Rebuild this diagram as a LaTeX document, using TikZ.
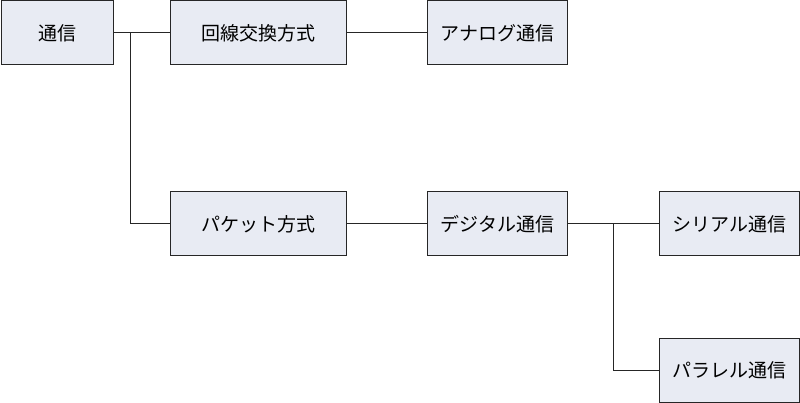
\documentclass[tikz,border=0pt]{standalone}
\usepackage{fontspec}
\newfontfamily\jp{Noto Sans CJK JP}
\begin{document}
\begin{tikzpicture}[x=1pt,y=-1pt,
  box/.style={draw=black!85,fill=boxfill,line width=1pt,inner sep=0pt,anchor=north west,font=\jp\fontsize{19}{22}\selectfont},
  conn/.style={draw=black!85,line width=1pt}]
\definecolor{boxfill}{HTML}{E8EBF3}
\useasboundingbox (0,0) rectangle (800,403);
\node[box,minimum width=112pt,minimum height=64pt] (tsu) at (0.5,0.5) {通信};
\node[box,minimum width=176pt,minimum height=64pt] (kai) at (170,0.5) {回線交換方式};
\node[box,minimum width=140pt,minimum height=64pt] (ana) at (427,0.5) {アナログ通信};
\node[box,minimum width=176pt,minimum height=64pt] (pak) at (170,191.5) {パケット方式};
\node[box,minimum width=140pt,minimum height=64pt] (dig) at (427,191.5) {デジタル通信};
\node[box,minimum width=140pt,minimum height=64pt] (ser) at (659,191.5) {シリアル通信};
\node[box,minimum width=140pt,minimum height=64pt] (par) at (659,338) {パラレル通信};
\coordinate (j1) at (tsu.east -| 130,0);
\coordinate (j2) at (dig.east -| 613,0);
\draw[conn] (tsu.east) -- (kai.west);
\draw[conn] (j1) |- (pak.west);
\draw[conn] (kai.east) -- (ana.west);
\draw[conn] (pak.east) -- (dig.west);
\draw[conn] (dig.east) -- (ser.west);
\draw[conn] (j2) |- (par.west);
\end{tikzpicture}
\end{document}
